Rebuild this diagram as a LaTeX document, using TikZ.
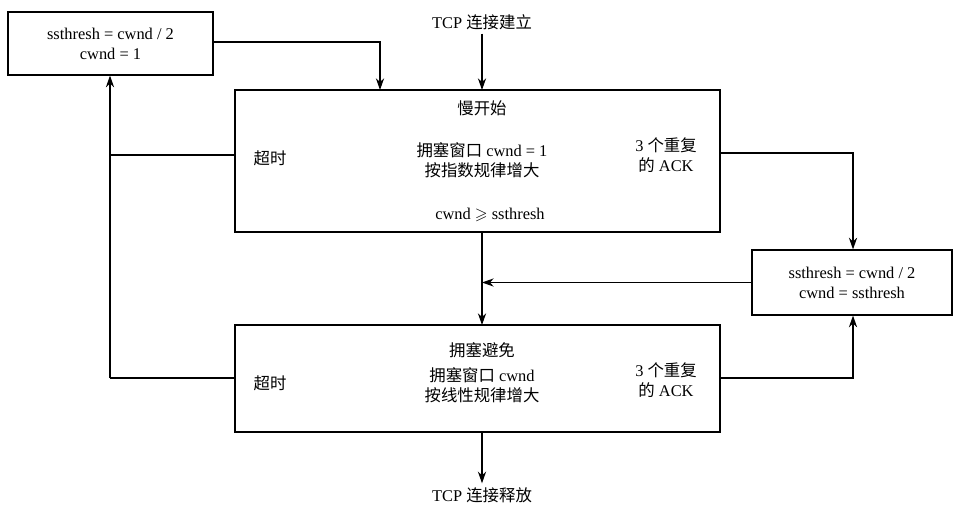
\documentclass[tikz,border=0pt]{standalone}
\usepackage{amssymb}
\usepackage{fontspec}
\setmainfont{Liberation Serif}
\newfontfamily\cjk{Noto Sans CJK SC}
\usetikzlibrary{arrows.meta}
\begin{document}
\begin{tikzpicture}[x=0.03cm,y=-0.03cm,
  every node/.style={font=\fontsize{14}{17}\selectfont,align=center},
  bx/.style={draw,line width=1pt,inner sep=0pt},
  ar/.style={line width=1pt,-{Stealth[length=10pt,width=7pt]}},
  ln/.style={line width=1pt}]
\useasboundingbox (0,0) rectangle (965,510);
\node[bx,minimum width=205*0.03cm,minimum height=63*0.03cm] (tl) at (110.5,43.5) {ssthresh = cwnd / 2\\cwnd = 1};
\node[bx,minimum width=485*0.03cm,minimum height=142*0.03cm] (ss) at (477.5,161) {};
\node[bx,minimum width=200*0.03cm,minimum height=65*0.03cm] (rb) at (852,282.5) {ssthresh = cwnd / 2\\cwnd = ssthresh};
\node[bx,minimum width=485*0.03cm,minimum height=107*0.03cm] (ca) at (477.5,378.5) {};
\node (start) at (482,22) {TCP {\cjk 连接建立}};
\node (end) at (482,495) {TCP {\cjk 连接释放}};
\node (t1) at (482,108) {\cjk 慢开始};
\node (t2) at (270,158) {\cjk 超时};
\node (t3) at (482,160) {{\cjk 拥塞窗口} cwnd = 1\\{\cjk 按指数规律增大}};
\node (t4) at (666,155) {3 {\cjk 个重复}\\{\cjk 的} ACK};
\node (t5) at (490,215) {cwnd $\geqslant$ ssthresh};
\node (u1) at (482,350) {\cjk 拥塞避免};
\node (u2) at (270,383) {\cjk 超时};
\node (u3) at (482,385) {{\cjk 拥塞窗口} cwnd\\{\cjk 按线性规律增大}};
\node (u4) at (666,380) {3 {\cjk 个重复}\\{\cjk 的} ACK};
\coordinate (s1) at (482,90);
\coordinate (s2) at (482,232);
\coordinate (c1) at (482,325);
\coordinate (c2) at (482,432);
\draw[ar] (start.south) -- (s1);
\draw[ar] (c2) -- (end.north);
\draw[ar] (s2) -- (c1);
\draw[ar] (tl.east |- 0,42) -| (380,90);
\draw[ln] (ss.west |- 0,155) -- (110,155);
\draw[ln] (ca.west |- 0,378) -- (110,378);
\draw[ar] (110,378) -- (tl.south -| 110,0);
\draw[ar] (ss.east |- 0,153) -| (rb.north -| 853,0);
\draw[ar] (rb.west) -- (482,282.5);
\draw[ar] (ca.east |- 0,378) -| (rb.south -| 853,0);
\end{tikzpicture}
\end{document}
